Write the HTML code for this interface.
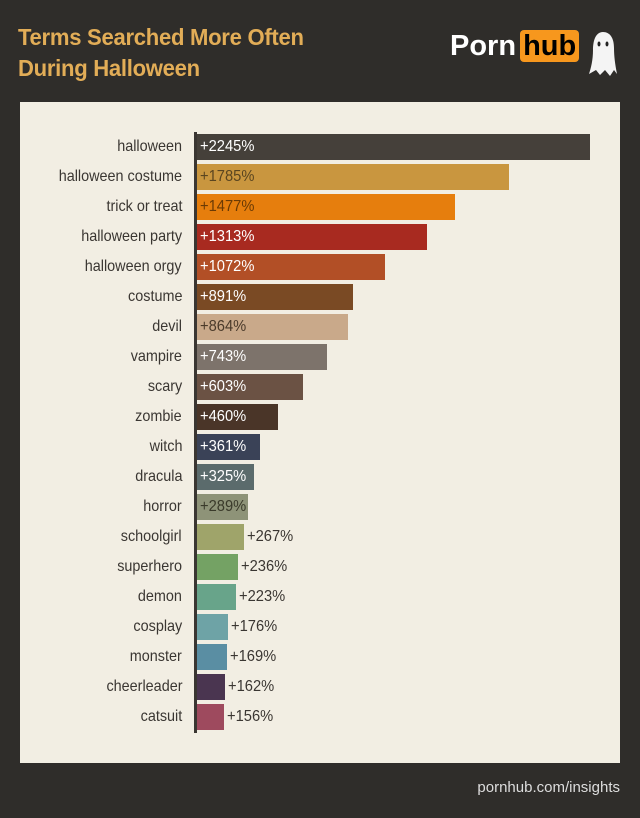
<!DOCTYPE html>
<html><head><meta charset="utf-8"><style>
body{margin:0;width:640px;height:818px;background:#2f2d2a;position:relative;overflow:hidden;font-family:"Liberation Sans",sans-serif}
.title{position:absolute;left:18px;top:22px;color:#e2ad57;font:bold 23px/31px "Liberation Sans",sans-serif;letter-spacing:-0.3px;transform:scaleX(0.96);transform-origin:left}
.panel{position:absolute;left:20px;top:102px;width:600px;height:661px;background:#f2eee3}
.axis{position:absolute;left:194px;top:132px;width:3px;height:601px;background:#3a3632}
.row{position:absolute;left:0;height:26px;width:640px}
.lab{position:absolute;right:458px;top:0;line-height:26px;font-size:16px;color:#3a3632;white-space:nowrap;transform:scaleX(0.9);transform-origin:right}
.bar{position:absolute;left:197px;top:0;height:26px}
.val{position:absolute;top:0;line-height:26px;font-size:16px;white-space:nowrap;transform:scaleX(0.92);transform-origin:left}
.foot{position:absolute;right:20px;top:779px;color:#ddd;font-size:15px}
.logo{position:absolute;left:450px;top:30px;font:bold 29px "Liberation Sans",sans-serif;color:#fff}
.hub{background:#f7971d;color:#000;border-radius:4px;padding:0 3px;margin-left:4px}
</style></head><body>
<div class="title">Terms Searched More Often<br>During Halloween</div>
<div class="logo">Porn<span class="hub">hub</span></div>
<svg style="position:absolute;left:588px;top:30px" width="30" height="48"><path d="M15 2C7 2 5 12 5 20C5 30 3 38 1 44L8 40L12 45L17 40L22 46L26 40L29 44C27 34 26 26 26 18C26 8 22 2 15 2Z" fill="#f4f4f4"/><ellipse cx="11" cy="14" rx="1.5" ry="2.5" fill="#222"/><ellipse cx="19" cy="14" rx="1.5" ry="2.5" fill="#222"/></svg>
<div class="panel"></div>
<div class="axis"></div>
<div id="c"></div>
<div class="foot">pornhub.com/insights</div>
<script>
var d=[["halloween",2245,"#45403a","#fff"],["halloween costume",1785,"#c9963f","#5a4520"],["trick or treat",1477,"#e67e0d","#6a3a05"],["halloween party",1313,"#a82a20","#fff"],["halloween orgy",1072,"#b24f26","#fff"],["costume",891,"#7a4a24","#fff"],["devil",864,"#c9a98a","#4a3a2a"],["vampire",743,"#7d736b","#fff"],["scary",603,"#6b5244","#fff"],["zombie",460,"#4a3528","#fff"],["witch",361,"#3a4257","#fff"],["dracula",325,"#5b6b6c","#fff"],["horror",289,"#8e9378","#3a3a2a"],["schoolgirl",267,"#9fa46a",0],["superhero",236,"#74a264",0],["demon",223,"#68a48a",0],["cosplay",176,"#6ea3a6",0],["monster",169,"#5a8ea3",0],["cheerleader",162,"#4a3550",0],["catsuit",156,"#9e4a5e",0]];
var h="";d.forEach(function(r,i){var w=Math.round(r[1]*0.175);var y=134+i*30;
var v=r[3]?'<div class="val" style="left:200px;color:'+r[3]+'">+'+r[1]+'%</div>':'<div class="val" style="left:'+(200+w)+'px;color:#3a3632">+'+r[1]+'%</div>';
h+='<div class="row" style="top:'+y+'px"><div class="lab">'+r[0]+'</div><div class="bar" style="width:'+w+'px;background:'+r[2]+'"></div>'+v+'</div>';});
document.getElementById("c").innerHTML=h;
</script>
</body></html>
